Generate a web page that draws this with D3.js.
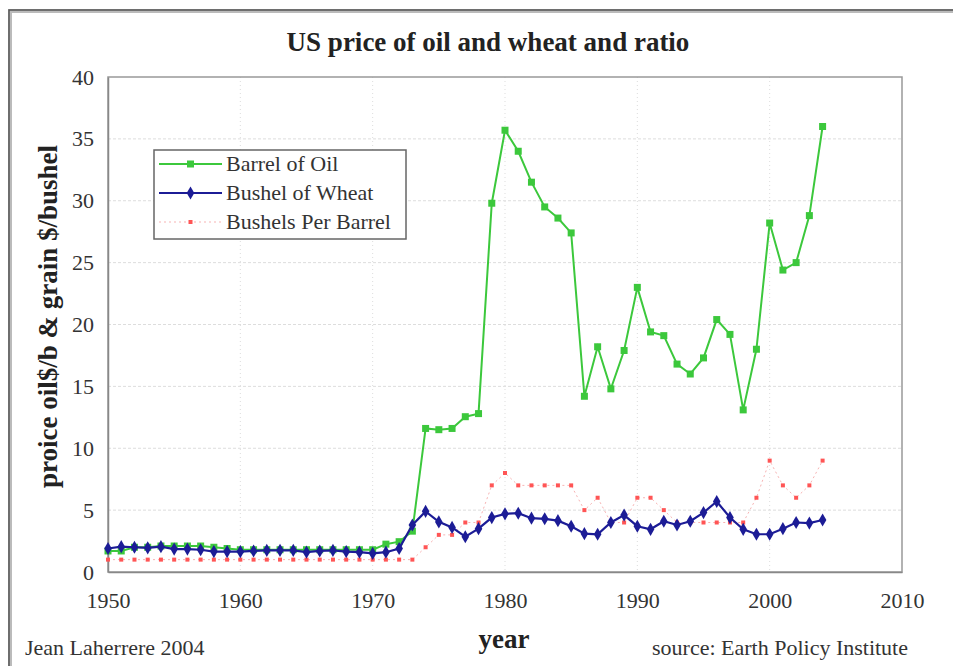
<!DOCTYPE html>
<html>
<head>
<meta charset="utf-8">
<script src="https://cdn.jsdelivr.net/npm/d3@7"></script>
<style>
  body { margin: 0; background: #fff; }
  svg text { font-family: "Liberation Serif", "Times New Roman", serif; }
</style>
</head>
<body>
<svg id="chart" width="953" height="666"></svg>
<script>
// ----------------------------
// Data
// ----------------------------
const years = [1950, 1951, 1952, 1953, 1954, 1955, 1956, 1957, 1958, 1959,
  1960, 1961, 1962, 1963, 1964, 1965, 1966, 1967, 1968, 1969,
  1970, 1971, 1972, 1973, 1974, 1975, 1976, 1977, 1978, 1979,
  1980, 1981, 1982, 1983, 1984, 1985, 1986, 1987, 1988, 1989,
  1990, 1991, 1992, 1993, 1994, 1995, 1996, 1997, 1998, 1999,
  2000, 2001, 2002, 2003, 2004];

const oil = [1.7, 1.7, 2.0, 2.0, 2.1, 2.1, 2.1, 2.1, 2.0, 1.9,
  1.8, 1.8, 1.8, 1.8, 1.8, 1.8, 1.8, 1.8, 1.8, 1.8,
  1.8, 2.25, 2.45, 3.3, 11.6, 11.5, 11.6, 12.55, 12.8, 29.8,
  35.7, 34.0, 31.5, 29.5, 28.6, 27.4, 14.2, 18.2, 14.8, 17.9,
  23.0, 19.4, 19.1, 16.8, 16.0, 17.3, 20.4, 19.2, 13.1, 18.0,
  28.2, 24.4, 25.0, 28.8, 36.0];

const wheat = [1.9, 2.05, 2.0, 1.95, 2.05, 1.85, 1.85, 1.8, 1.65, 1.65,
  1.65, 1.7, 1.75, 1.75, 1.75, 1.6, 1.7, 1.75, 1.65, 1.6,
  1.5, 1.6, 1.9, 3.8, 4.9, 4.05, 3.6, 2.85, 3.5, 4.4,
  4.7, 4.75, 4.35, 4.3, 4.15, 3.7, 3.1, 3.05, 4.0, 4.6,
  3.7, 3.45, 4.1, 3.8, 4.1, 4.8, 5.7, 4.4, 3.45, 3.05,
  3.05, 3.5, 4.0, 3.95, 4.2];

const ratio = [1, 1, 1, 1, 1, 1, 1, 1, 1, 1,
  1, 1, 1, 1, 1, 1, 1, 1, 1, 1,
  1, 1, 1, 1, 2, 3, 3, 4, 4, 7,
  8, 7, 7, 7, 7, 7, 5, 6, 4, 4,
  6, 6, 5, 4, 4, 4, 4, 4, 4, 6,
  9, 7, 6, 7, 9];

const xTicks = [1950, 1960, 1970, 1980, 1990, 2000, 2010];
const yTicks = [0, 5, 10, 15, 20, 25, 30, 35, 40];

const seriesNames = ["Barrel of Oil", "Bushel of Wheat", "Bushels Per Barrel"];

// ----------------------------
// Plotting
// ----------------------------
const svg = d3.select("#chart");
const margin = { top: 77, right: 51, bottom: 94, left: 108 };
const width = +svg.attr("width");
const height = +svg.attr("height");
const innerW = width - margin.left - margin.right;
const innerH = height - margin.top - margin.bottom;

const xScale = d3.scaleLinear().domain([1950, 2010]).range([0, innerW]);
const yScale = d3.scaleLinear().domain([0, 40]).range([innerH, 0]);

const oilColor = "#3cc83c";
const wheatColor = "#1c1c96";
const ratioLine = "#f7b3b3";
const ratioDot = "#f55";

// outer frame
svg.append("path")
    .attr("d", `M${width},11 L10,11 L10,${height}`)
    .attr("fill", "none")
    .attr("stroke", "#bbb")
    .attr("stroke-width", 4);
svg.append("path")
    .attr("d", `M${width},10 L9,10 L9,${height}`)
    .attr("fill", "none")
    .attr("stroke", "#555")
    .attr("stroke-width", 1.5);

const g = svg.append("g").attr("transform", `translate(${margin.left},${margin.top})`);

// grid
g.selectAll(".hgrid").data(yTicks.filter(d => d > 0 && d < 40)).enter()
  .append("line")
    .attr("x1", 0).attr("x2", innerW)
    .attr("y1", d => yScale(d)).attr("y2", d => yScale(d))
    .attr("stroke", "#ddd")
    .attr("stroke-dasharray", "3,2");

g.selectAll(".vgrid").data(xTicks.filter(d => d > 1950 && d < 2010)).enter()
  .append("line")
    .attr("x1", d => xScale(d)).attr("x2", d => xScale(d))
    .attr("y1", 0).attr("y2", innerH)
    .attr("stroke", "#ddd")
    .attr("stroke-dasharray", "1,3");

// plot border
g.append("rect")
    .attr("width", innerW).attr("height", innerH)
    .attr("fill", "none")
    .attr("stroke", "#999")
    .attr("stroke-width", 1.5);

// axes
const xAxis = g.append("g").attr("transform", `translate(0,${innerH})`)
    .call(d3.axisBottom(xScale).tickValues(xTicks).tickFormat(d3.format("d")).tickSize(0).tickPadding(20));
const yAxis = g.append("g")
    .call(d3.axisLeft(yScale).tickValues(yTicks).tickSize(0).tickPadding(14));
[xAxis, yAxis].forEach(ax => {
  ax.select(".domain").attr("stroke", "#888").attr("stroke-width", 1.5);
  ax.selectAll("text")
      .attr("font-family", "Liberation Serif, serif")
      .attr("font-size", 22)
      .attr("fill", "#333");
});

const line = d3.line()
    .x((d, i) => xScale(years[i]))
    .y(d => yScale(d));

// ratio: faint dotted line with small red squares
g.append("path")
    .datum(ratio)
    .attr("fill", "none")
    .attr("stroke", ratioLine)
    .attr("stroke-width", 1)
    .attr("stroke-dasharray", "2,3")
    .attr("d", line);
g.selectAll(".rpt").data(ratio).enter()
  .append("rect")
    .attr("x", (d, i) => xScale(years[i]) - 2)
    .attr("y", d => yScale(d) - 2)
    .attr("width", 4).attr("height", 4)
    .attr("fill", ratioDot);

// oil
g.append("path")
    .datum(oil)
    .attr("fill", "none")
    .attr("stroke", oilColor)
    .attr("stroke-width", 2)
    .attr("d", line);
g.selectAll(".opt").data(oil).enter()
  .append("rect")
    .attr("x", (d, i) => xScale(years[i]) - 3.5)
    .attr("y", d => yScale(d) - 3.5)
    .attr("width", 7).attr("height", 7)
    .attr("fill", oilColor);

// wheat
g.append("path")
    .datum(wheat)
    .attr("fill", "none")
    .attr("stroke", wheatColor)
    .attr("stroke-width", 2.2)
    .attr("d", line);
const diamond = d3.symbol().type(d3.symbolDiamond).size(50);
g.selectAll(".wpt").data(wheat).enter()
  .append("path")
    .attr("transform", (d, i) => `translate(${xScale(years[i])},${yScale(d)})`)
    .attr("d", diamond)
    .attr("fill", wheatColor);

// legend
const legend = svg.append("g").attr("transform", "translate(154,150)");
legend.append("rect")
    .attr("width", 252).attr("height", 89)
    .attr("fill", "#fff")
    .attr("stroke", "#666")
    .attr("stroke-width", 1.5);
const rowY = [14, 43, 72];
const colors = [oilColor, wheatColor, ratioLine];
seriesNames.forEach((name, i) => {
  const row = legend.append("g").attr("transform", `translate(0,${rowY[i]})`);
  row.append("line")
      .attr("x1", 5).attr("x2", 68)
      .attr("stroke", colors[i])
      .attr("stroke-width", i === 2 ? 1 : 2)
      .attr("stroke-dasharray", i === 2 ? "2,3" : null);
  if (i === 0) {
    row.append("rect").attr("x", 33).attr("y", -3.5).attr("width", 7).attr("height", 7).attr("fill", oilColor);
  } else if (i === 1) {
    row.append("path").attr("transform", "translate(36.5,0)").attr("d", diamond).attr("fill", wheatColor);
  } else {
    row.append("rect").attr("x", 34.5).attr("y", -2).attr("width", 4).attr("height", 4).attr("fill", ratioDot);
  }
  row.append("text")
      .attr("x", 72).attr("y", 7)
      .attr("font-size", 22)
      .attr("fill", "#333")
      .text(name);
});

// title and labels
svg.append("text")
    .attr("x", 488).attr("y", 51)
    .attr("text-anchor", "middle")
    .attr("font-size", 27)
    .attr("font-weight", "bold")
    .attr("fill", "#222")
    .text("US price of oil and wheat and ratio");

svg.append("text")
    .attr("transform", `translate(57,${margin.top + innerH / 2 - 8}) rotate(-90)`)
    .attr("text-anchor", "middle")
    .attr("font-size", 27)
    .attr("font-weight", "bold")
    .attr("fill", "#222")
    .text("proice oil$/b & grain $/bushel");

svg.append("text")
    .attr("x", 504).attr("y", 648)
    .attr("text-anchor", "middle")
    .attr("font-size", 27)
    .attr("font-weight", "bold")
    .attr("fill", "#222")
    .text("year");

svg.append("text")
    .attr("x", 25).attr("y", 655)
    .attr("font-size", 22)
    .attr("fill", "#333")
    .text("Jean Laherrere 2004");

svg.append("text")
    .attr("x", 908).attr("y", 655)
    .attr("text-anchor", "end")
    .attr("font-size", 22)
    .attr("fill", "#333")
    .text("source: Earth Policy Institute");
</script>
</body>
</html>
